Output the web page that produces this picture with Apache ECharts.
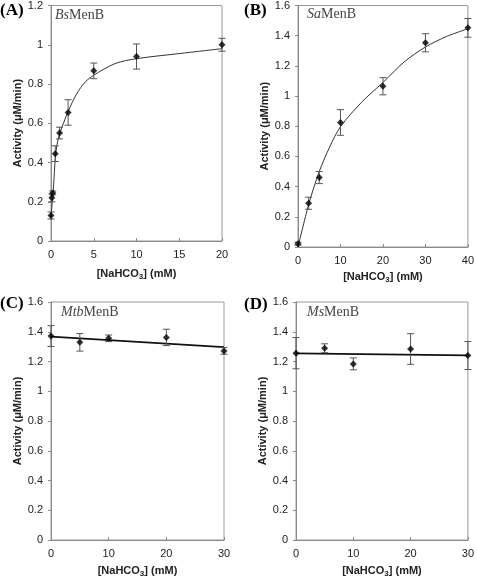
<!DOCTYPE html>
<html><head><meta charset="utf-8">
<script src="https://cdn.jsdelivr.net/npm/echarts@6/dist/echarts.min.js"></script>
<style>html,body{margin:0;padding:0;background:#fff}#c{width:477px;height:579px}</style>
</head><body><div id="c"></div>
<script>
// Panel A: BsMenB
const xA = [0, 0.1, 0.2, 0.5, 1, 2, 5, 10, 20];
const yA = [0.13, 0.22, 0.245, 0.445, 0.55, 0.655, 0.867, 0.94, 1.0];
const errA = [0.018, 0.02, 0.01, 0.04, 0.03, 0.065, 0.04, 0.064, 0.033];
const fitAx = [0, 0.15, 0.3, 0.5, 0.7, 1, 1.5, 2, 3, 4, 5, 7.5, 10, 15, 20];
const fitAy = [0.12, 0.2, 0.28, 0.42, 0.49, 0.545, 0.605, 0.66, 0.75, 0.81, 0.845, 0.904, 0.929, 0.955, 0.98];
// Panel B: SaMenB
const xB = [0, 2.5, 5, 10, 20, 30, 40];
const yB = [0.022, 0.29, 0.46, 0.825, 1.065, 1.353, 1.452];
const errB = [0.01, 0.04, 0.04, 0.085, 0.057, 0.06, 0.062];
const fitBx = [0, 2.5, 5, 7.5, 10, 15, 20, 25, 30, 35, 40];
const fitBy = [0, 0.28, 0.5, 0.665, 0.797, 0.96, 1.09, 1.226, 1.325, 1.395, 1.446];
// Panel C: MtbMenB
const xC = [0, 5, 10, 20, 30];
const yC = [1.371, 1.329, 1.356, 1.362, 1.271];
const errC = [0.07, 0.059, 0.022, 0.055, 0.022];
const fitCx = [0, 30];
const fitCy = [1.367, 1.296];
// Panel D: MsMenB
const xD = [0, 5, 10, 20, 30];
const yD = [1.256, 1.289, 1.184, 1.284, 1.24];
const errD = [0.105, 0.03, 0.04, 0.103, 0.094];
const fitDx = [0, 30];
const fitDy = [1.254, 1.241];

const xTitle = '{a|[NaHCO}{s|3}{a|] (mM)}';
const yTitle = 'Activity (\u03bcM/min)';
const FONT = '"Liberation Sans", Arial, sans-serif';
const SERIF = '"Liberation Serif", "Times New Roman", serif';

const pairs = (xs, ys) => xs.map((x, i) => [x, ys[i]]);
const triples = (xs, ys, es) => xs.map((x, i) => [x, ys[i], es[i]]);

const grids = [
  {left: 51, top: 4, width: 171, height: 237},
  {left: 298, top: 4, width: 174, height: 243},
  {left: 51, top: 302, width: 173, height: 241},
  {left: 296, top: 302, width: 174, height: 241}
].map(g => Object.assign({show: true, borderColor: '#9a9a9a', borderWidth: 1, backgroundColor: 'transparent'}, g));

function xAxis(i, max, interval, gap) {
  return {
    type: 'value', gridIndex: i, min: 0, max: max, interval: interval,
    axisLine: {show: true, lineStyle: {color: '#8a8a8a'}},
    axisTick: {show: true, inside: true, length: 3, lineStyle: {color: '#8a8a8a'}},
    splitLine: {show: false},
    axisLabel: {color: '#222', fontFamily: FONT, fontSize: 11, margin: 8},
    name: xTitle, nameLocation: 'middle', nameGap: gap,
    nameTextStyle: {rich: {
      a: {fontFamily: FONT, fontSize: 11, fontWeight: 'bold', color: '#222'},
      s: {fontFamily: FONT, fontSize: 8, fontWeight: 'bold', color: '#222', padding: [7, 0, 0, 0]}
    }}
  };
}
function yAxis(i, max, gap) {
  return {
    type: 'value', gridIndex: i, min: 0, max: max, interval: 0.2,
    axisLine: {show: true, lineStyle: {color: '#8a8a8a'}},
    axisTick: {show: true, length: 3, lineStyle: {color: '#8a8a8a'}},
    splitLine: {show: false},
    axisLabel: {color: '#222', fontFamily: FONT, fontSize: 11, margin: 8},
    name: yTitle, nameLocation: 'middle', nameGap: gap, nameRotate: 90,
    nameTextStyle: {fontFamily: FONT, fontSize: 11, fontWeight: 'bold', color: '#222'}
  };
}

function errSeries(i, data) {
  return {
    type: 'custom', xAxisIndex: i, yAxisIndex: i, data: data, z: 3,
    renderItem: function (params, api) {
      const x = api.value(0), y = api.value(1), e = api.value(2);
      const hi = api.coord([x, y + e]);
      const lo = api.coord([x, y - e]);
      const w = 3.5;
      const st = {stroke: '#555', lineWidth: 1};
      return {type: 'group', children: [
        {type: 'line', shape: {x1: hi[0], y1: hi[1], x2: lo[0], y2: lo[1]}, style: st},
        {type: 'line', shape: {x1: hi[0] - w, y1: hi[1], x2: hi[0] + w, y2: hi[1]}, style: st},
        {type: 'line', shape: {x1: lo[0] - w, y1: lo[1], x2: lo[0] + w, y2: lo[1]}, style: st}
      ]};
    }
  };
}
function ptSeries(i, data) {
  return {type: 'scatter', xAxisIndex: i, yAxisIndex: i, data: data, symbol: 'diamond', symbolSize: 7,
    itemStyle: {color: '#000'}, z: 4, silent: true};
}
function fitSeries(i, data, smooth, width, color) {
  return {type: 'line', xAxisIndex: i, yAxisIndex: i, data: data, showSymbol: false, smooth: smooth,
    lineStyle: {color: color, width: width}, z: 2, silent: true};
}

function letter(txt, x, y) {
  return {type: 'text', left: x, top: y, style: {text: txt, font: 'bold 17px ' + SERIF, fill: '#000'}};
}
function tag(it, rest, x, y) {
  return {type: 'text', left: x, top: y, style: {
    text: '{i|' + it + '}{r|' + rest + '}',
    rich: {
      i: {fontFamily: SERIF, fontStyle: 'italic', fontSize: 14, fill: '#444', color: '#444'},
      r: {fontFamily: SERIF, fontSize: 14, fill: '#444', color: '#444'}
    }
  }};
}

const option = {
  animation: false,
  grid: grids,
  xAxis: [xAxis(0, 20, 5, 25), xAxis(1, 40, 10, 22), xAxis(2, 30, 10, 23), xAxis(3, 30, 10, 23)],
  yAxis: [yAxis(0, 1.2, 26), yAxis(1, 1.6, 24), yAxis(2, 1.6, 24), yAxis(3, 1.6, 22)],
  series: [
    fitSeries(0, pairs(fitAx, fitAy), 0.3, 1, '#333'),
    errSeries(0, triples(xA, yA, errA)),
    ptSeries(0, pairs(xA, yA)),
    fitSeries(1, pairs(fitBx, fitBy), 0.3, 1, '#333'),
    errSeries(1, triples(xB, yB, errB)),
    ptSeries(1, pairs(xB, yB)),
    fitSeries(2, pairs(fitCx, fitCy), false, 1.8, '#111'),
    errSeries(2, triples(xC, yC, errC)),
    ptSeries(2, pairs(xC, yC)),
    fitSeries(3, pairs(fitDx, fitDy), false, 1.8, '#111'),
    errSeries(3, triples(xD, yD, errD)),
    ptSeries(3, pairs(xD, yD))
  ],
  graphic: [
    letter('(A)', 0, 2), letter('(B)', 244, 2), letter('(C)', 0, 295), letter('(D)', 244, 296),
    tag('Bs', 'MenB', 55, 8), tag('Sa', 'MenB', 307, 7), tag('Mtb', 'MenB', 61, 305), tag('Ms', 'MenB', 307, 305)
  ]
};
const chart = echarts.init(document.getElementById('c'), null, {renderer: 'canvas'});
chart.setOption(option);
</script></body></html>
